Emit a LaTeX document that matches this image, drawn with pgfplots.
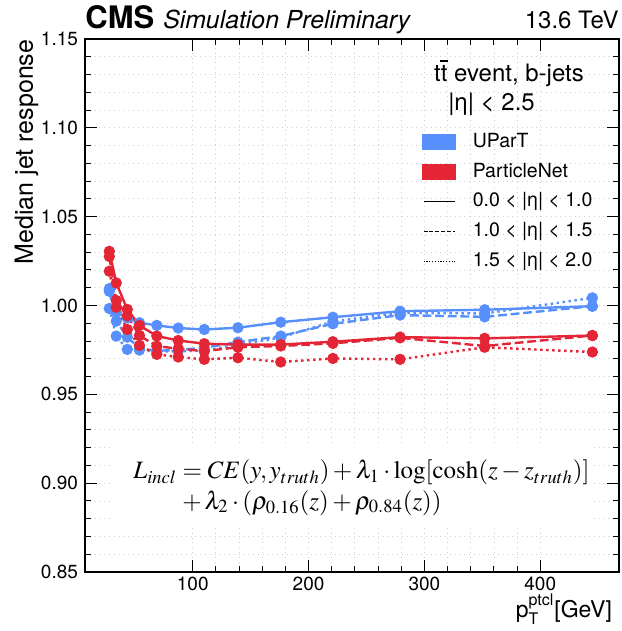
\documentclass[border=0pt]{standalone}
\usepackage{mathptmx}
\usepackage[no-math]{fontspec}
\setmainfont{TeX Gyre Heros}
\usepackage{pgfplots}
\pgfplotsset{compat=1.18}

\definecolor{cmsblue}{HTML}{5790FC}
\definecolor{cmsred}{HTML}{E42536}
\definecolor{gridgray}{HTML}{CFCFCF}

\tikzset{
  solidl/.style={solid},
  dashedl/.style={dash pattern=on 4.4pt off 1.9pt},
  dottedl/.style={dash pattern=on 1.2pt off 1.8pt},
}
% t with a bar over it
\newcommand{\tbar}{\ooalign{t\cr\hidewidth\raisebox{0.8em}{\rule{0.34em}{0.06em}}\hidewidth\cr}}

\begin{document}
\begin{tikzpicture}
\begin{axis}[
  name=ax,
  scale only axis,
  width=267pt, height=266.5pt,
  xmin=7, xmax=468, ymin=0.85, ymax=1.15,
  xtick={100,200,300,400}, minor x tick num=4,
  ytick={0.85,0.90,...,1.16}, minor y tick num=4,
  yticklabel style={/pgf/number format/.cd, fixed, fixed zerofill, precision=2},
  /pgf/number format/assume math mode=true,
  tick label style={font=\fontsize{9.5}{11}\selectfont},
  xticklabel style={yshift=1pt},
  tick align=inside,
  major tick length=6pt, minor tick length=3pt,
  tick style={black, line width=0.5pt},
  axis line style={line width=1pt},
  grid=both,
  grid style={gridgray, dotted, line width=0.4pt},
  minor grid style={gridgray, dotted, line width=0.4pt},
  xlabel={p$^{\mbox{\fontsize{8}{9}\selectfont ptcl}}_{\mbox{\fontsize{8}{9}\selectfont T}}$[GeV]},
  xlabel style={font=\fontsize{11.5}{13}\selectfont, at={(axis description cs:1,0)}, anchor=north east, yshift=-7.5pt},
  ylabel={Median jet response},
  ylabel style={font=\fontsize{12.5}{14}\selectfont, at={(axis description cs:-0.074,1.012)}, anchor=south east},
  every axis plot/.append style={line width=1.2pt, mark=*, mark size=2.2pt, mark options={solid}},
  legend style={at={(rel axis cs:0.631,0.835)}, anchor=north west, draw=none, fill=none,
    inner sep=0pt, font=\fontsize{9.75}{11}\selectfont,
    nodes={inner sep=0pt, text height=10pt, text depth=4.9pt},
    /tikz/every odd column/.append style={column sep=8.5pt}},
  legend cell align=left,
  clip=false,
]
% white box behind the loss formula
\fill[white] (rel axis cs:0.0524,0.0844) rectangle (rel axis cs:0.9494,0.2383);

% UParT
\addplot[cmsblue, solidl, forget plot] coordinates {
  (28,1.0095) (34,0.9962) (43.5,0.9930) (54,0.9903) (69,0.9888) (87.5,0.9873)
  (110,0.9865) (139,0.9875) (176,0.9906) (221,0.9934) (279,0.9968) (352,0.9976) (445,0.9996)};
\addplot[cmsblue, dashedl, forget plot] coordinates {
  (28,1.0080) (34,0.9912) (43.5,0.9822) (54,0.9760) (69,0.9745) (87.5,0.9750)
  (110,0.9762) (139,0.9794) (176,0.9828) (221,0.9897) (279,0.9946) (352,0.9936) (445,0.9996)};
\addplot[cmsblue, dottedl, forget plot] coordinates {
  (28,0.9983) (34,0.9828) (43.5,0.9753) (54,0.9749) (69,0.9740) (87.5,0.9743)
  (110,0.9745) (139,0.9780) (176,0.9820) (221,0.9910) (279,0.9959) (352,0.9955) (445,1.0043)};
% ParticleNet
\addplot[cmsred, solidl, forget plot] coordinates {
  (28,1.0305) (34,1.0127) (43.5,0.9978) (54,0.9888) (69,0.9828) (87.5,0.9803)
  (110,0.9785) (139,0.9780) (176,0.9780) (221,0.9796) (279,0.9822) (352,0.9815) (445,0.9831)};
\addplot[cmsred, dashedl, forget plot] coordinates {
  (28,1.0276) (34,1.0028) (43.5,0.9942) (54,0.9831) (69,0.9771) (87.5,0.9757)
  (110,0.9743) (139,0.9765) (176,0.9772) (221,0.9787) (279,0.9818) (352,0.9772) (445,0.9831)};
\addplot[cmsred, dottedl, forget plot] coordinates {
  (28,1.0193) (34,0.9990) (43.5,0.9865) (54,0.9775) (69,0.9725) (87.5,0.9710)
  (110,0.9697) (139,0.9706) (176,0.9682) (221,0.9702) (279,0.9697) (352,0.9765) (445,0.9738)};

% legend
\addlegendimage{legend image code/.code={\fill[cmsblue] (0pt,-3.5pt) rectangle (15.5pt,3.5pt);}}
\addlegendentry{UParT}
\addlegendimage{legend image code/.code={\fill[cmsred] (0pt,-3.5pt) rectangle (15.5pt,3.5pt);}}
\addlegendentry{ParticleNet}
\addlegendimage{legend image code/.code={\draw[black, line width=0.6pt] (0pt,0pt) -- (15.5pt,0pt);}}
\addlegendentry{0.0 < |η| < 1.0}
\addlegendimage{legend image code/.code={\draw[black, line width=0.6pt, dash pattern=on 2pt off 0.9pt] (0pt,0pt) -- (15.5pt,0pt);}}
\addlegendentry{1.0 < |η| < 1.5}
\addlegendimage{legend image code/.code={\draw[black, line width=0.6pt, dash pattern=on 0.6pt off 0.8pt] (0pt,0pt) -- (15.5pt,0pt);}}
\addlegendentry{1.5 < |η| < 2.0}

% header of the legend
\node[font=\fontsize{12}{14}\selectfont] at (rel axis cs:0.794,0.9325) {t\tbar{} event, b-jets};
\node[font=\fontsize{12}{14}\selectfont, anchor=west] at (rel axis cs:0.667,0.878) {|η| < 2.5};

% loss formula
\node[anchor=base west, font=\fontsize{12.5}{14}\selectfont, inner sep=0pt] at (rel axis cs:0.0899,0.1745)
  {$L_{incl} = CE(y, y_{truth}) + \lambda_1\cdot\log[\cosh(z-z_{truth})]$};
\node[anchor=base west, font=\fontsize{12.5}{14}\selectfont, inner sep=0pt] at (rel axis cs:0.1816,0.1182)
  {$+\,\lambda_2\cdot(\rho_{0.16}(z)+\rho_{0.84}(z))$};

% top labels
\node[anchor=base west, inner sep=0pt] at ([yshift=5pt]rel axis cs:0,1)
  {{\fontsize{15.5}{18}\selectfont\bfseries CMS}\hspace{4.5pt}{\fontsize{12.4}{15}\selectfont\itshape Simulation Preliminary}};
\node[anchor=base east, inner sep=0pt, font=\fontsize{12}{14}\selectfont] at ([yshift=5pt]rel axis cs:1,1) {13.6 TeV};
\end{axis}
\pgfresetboundingbox
\path ([xshift=-42.5pt,yshift=-29.5pt]ax.south west) rectangle ([xshift=1pt,yshift=19.5pt]ax.north east);
\end{tikzpicture}
\end{document}
